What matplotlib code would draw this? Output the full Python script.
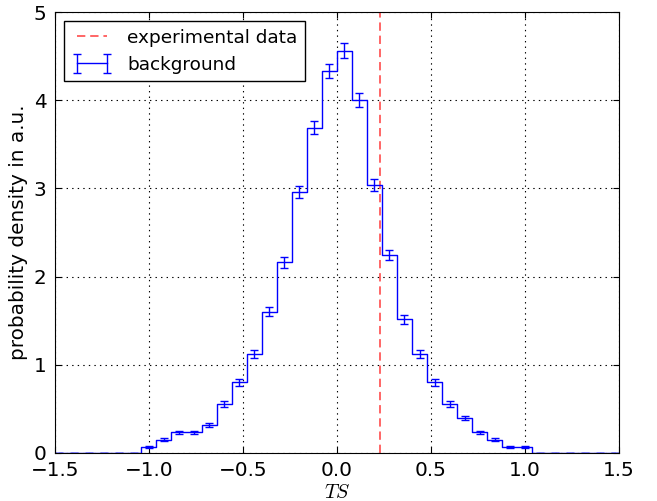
import numpy as np
import matplotlib
matplotlib.use("Agg")
import matplotlib.pyplot as plt

plt.rcParams['mathtext.fontset'] = 'cm'
plt.rcParams['lines.scale_dashes'] = False

# bin centres of the background histogram (width 0.08)
ts_centres = np.arange(-1.48, 1.481, 0.08)

# density per bin (left to right)
density = [0, 0, 0, 0, 0, 0,
           0.068, 0.152, 0.235, 0.235, 0.315, 0.555, 0.80, 1.12, 1.60, 2.16,
           2.96, 3.69, 4.33, 4.56, 4.00, 3.04, 2.245, 1.516, 1.12, 0.80,
           0.555, 0.395, 0.235, 0.152, 0.068, 0.068,
           0, 0, 0, 0, 0, 0]
density_err = [0, 0, 0, 0, 0, 0,
               0.010, 0.016, 0.019, 0.019, 0.022, 0.030, 0.036, 0.042, 0.050, 0.059,
               0.068, 0.077, 0.083, 0.085, 0.080, 0.070, 0.060, 0.049, 0.042, 0.036,
               0.030, 0.025, 0.019, 0.016, 0.010, 0.010,
               0, 0, 0, 0, 0, 0]

ts_experiment = 0.228

fig = plt.figure(figsize=(6.57, 5.01), dpi=100)
ax = fig.add_axes([0.0837, 0.096, 0.858, 0.88])

ax.axvline(ts_experiment, color='r', ls=(0, (6, 3.5)), lw=1.2, alpha=0.7, label='experimental data')
ax.errorbar(ts_centres, density, yerr=density_err, color='b', lw=1, drawstyle='steps-mid',
            capsize=3, elinewidth=1, label='background')

ax.set_xlim(-1.5, 1.5)
ax.set_ylim(0, 5)
ax.set_xticks([-1.5, -1.0, -0.5, 0.0, 0.5, 1.0, 1.5])
ax.set_yticks([0, 1, 2, 3, 4, 5])
ax.tick_params(direction='in', top=True, right=True, labelsize=14.4, length=4, pad=6)
ax.grid(True, color='k', ls=(0, (1, 3)), lw=0.8)
ax.set_xlabel('$TS$', fontsize=14.4, labelpad=2)
ax.set_ylabel('probability density in a.u.', fontsize=14.4, labelpad=4)

leg = ax.legend(loc='upper left', numpoints=2, fontsize=13.3, fancybox=False,
                framealpha=1, edgecolor='k', borderaxespad=0.5, handlelength=2.2)
leg.get_frame().set_linewidth(1)

fig.savefig('out.png', dpi=100, facecolor='w')
